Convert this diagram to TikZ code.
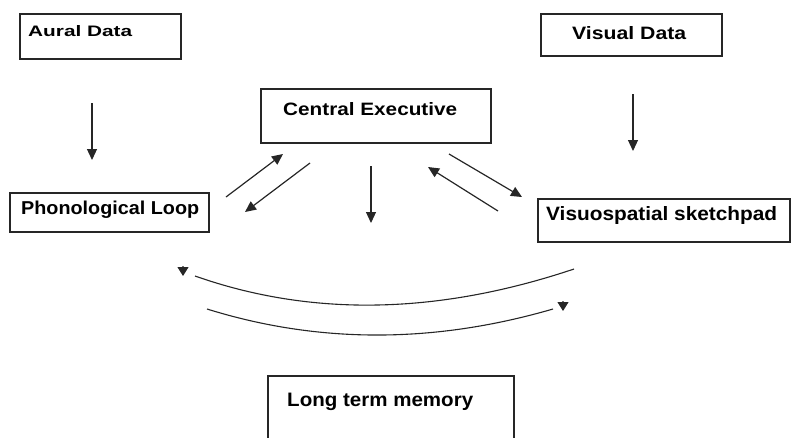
\documentclass[tikz,border=0pt]{standalone}
\usepackage{fontspec}
\setmainfont{Liberation Sans}
\usetikzlibrary{arrows.meta}
\newcommand{\fittext}[3]{\resizebox{#1pt}{#2pt}{\bfseries #3}}
\tikzset{
  box/.style={draw=black!85, line width=1.3pt, rectangle, inner sep=0pt},
  txt/.style={inner sep=0pt, anchor=base west, text=black},
  arr/.style={draw=black!85, line width=1.2pt, -{Triangle[width=10pt,length=11pt]}},
  carr/.style={draw=black!85, line width=1.1pt, -{Triangle[width=11pt,length=9pt]}}
}
\begin{document}
\begin{tikzpicture}[x=1pt,y=-1pt]
\useasboundingbox (0,0) rectangle (792,437);
% boxes
\node[box, minimum width=161pt, minimum height=45pt] (aural) at (100.5,36.5) {};
\node[box, minimum width=181pt, minimum height=42pt] (visual) at (631.5,35) {};
\node[box, minimum width=230pt, minimum height=54pt] (central) at (376,116) {};
\node[box, minimum width=199pt, minimum height=39pt] (phono) at (109.5,212.5) {};
\node[box, minimum width=252pt, minimum height=43pt] (visuo) at (664,220.5) {};
\node[box, minimum width=246pt, minimum height=72pt] (ltm) at (391,412) {};
% texts
\node[txt] (aural-t) at (28,36) {\fittext{104}{11}{Aural Data}};
\node[txt] (visual-t) at (572,39) {\fittext{114}{13}{Visual Data}};
\node[txt] (central-t) at (283,115.7) {\fittext{174}{13}{Central Executive}};
\node[txt] (phono-t) at (21,214.3) {\fittext{178}{13.5}{Phonological Loop}};
\node[txt] (visuo-t) at (546,220.7) {\fittext{231}{14}{Visuospatial sketchpad}};
\node[txt] (ltm-t) at (287,406.7) {\fittext{186}{13.4}{Long term memory}};
% arrow end points
\coordinate (a1s) at (92,103);  \coordinate (a1e) at (92,160);
\coordinate (v1s) at (633,94);  \coordinate (v1e) at (633,151);
\coordinate (c1s) at (371,166); \coordinate (c1e) at (371,223);
\coordinate (lus) at (226,197); \coordinate (lue) at (283,154);
\coordinate (lds) at (310,163); \coordinate (lde) at (245,212);
\coordinate (rds) at (449,154); \coordinate (rde) at (522,197);
\coordinate (rus) at (498,211); \coordinate (rue) at (428,167);
\draw[arr] (a1s) -- (a1e);
\draw[arr] (v1s) -- (v1e);
\draw[arr] (c1s) -- (c1e);
\draw[arr] (lus) -- (lue);
\draw[arr] (lds) -- (lde);
\draw[arr] (rds) -- (rde);
\draw[arr] (rus) -- (rue);
% curved arrows
\coordinate (u1) at (574,269); \coordinate (u2) at (195,276);
\coordinate (u3) at (183,266); \coordinate (u4) at (183,276);
\draw[carr] (u1) .. controls (437.7,314.7) and (311.3,317) .. (u2) (u3) -- (u4);
\coordinate (w1) at (207,309); \coordinate (w2) at (553,309);
\coordinate (w3) at (563,301); \coordinate (w4) at (563,311);
\draw[carr] (w1) .. controls (318.3,343.7) and (433.7,343.7) .. (w2) (w3) -- (w4);
\end{tikzpicture}
\end{document}
